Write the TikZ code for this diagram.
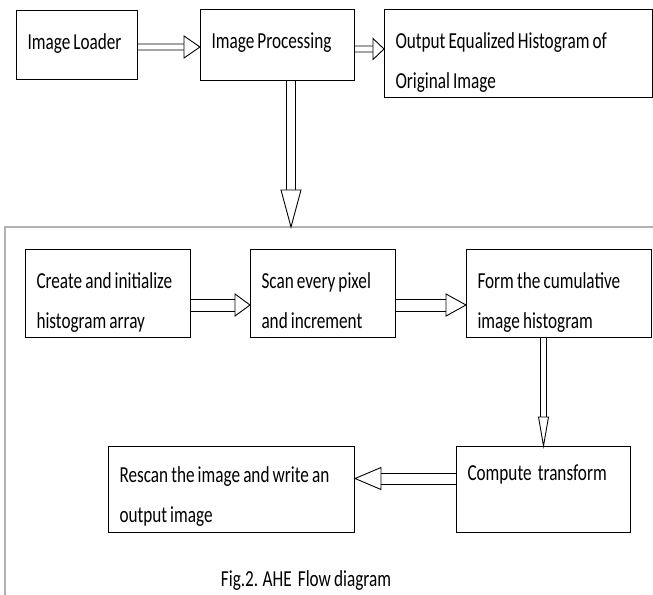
\documentclass[tikz,border=0pt]{standalone}
\usepackage{fontspec}
\setmainfont{Carlito}[FakeStretch=0.75, WordSpace=0.8]
\usetikzlibrary{arrows.meta, positioning, calc}
\hyphenpenalty=10000
% hollow block arrow: from, to, shaft half width, head length, head half width
\newcommand{\blkarrow}[5]{%
  \coordinate (hb) at ($(#2)!#4!(#1)$);
  \draw[blk] ($(#1)!#3!90:(#2)$) -- ($(hb)!#3!-90:(#1)$)
             ($(#1)!#3!-90:(#2)$) -- ($(hb)!#3!90:(#1)$);
  \draw[blk, fill=white] ($(hb)!#5!90:(#2)$) -- (#2) -- ($(hb)!#5!-90:(#2)$) -- cycle;
}

\begin{document}
\begin{tikzpicture}[x=1bp, y=-1bp,
    box/.style={draw, line width=1bp, anchor=north west, align=left,
                inner xsep=11bp, inner ysep=0pt, text height=39bp,
                font=\fontsize{23}{40}\selectfont,
                execute at begin node={\spaceskip=0pt\xspaceskip=0pt}},
    blk/.style={draw, line width=0.9bp, line join=miter},
]
\useasboundingbox (0,0) rectangle (653,595);
\clip (0,0) rectangle (653,595);
% top row
\node[box, minimum width=121bp, text depth=30bp, text width=99bp] (loader) at (16,10) {Image Loader};
\node[box, minimum width=154bp, text depth=32bp, text width=132bp] (proc) at (200,9) {Image Processing};
\node[box, minimum width=268bp, text depth=49bp, text width=246bp] (out) at (384,9)
  {Output Equalized Histogram of\\Original Image};
\coordinate (lp1) at ($(loader.east)+(0,2)$);
\coordinate (lp2) at ($(proc.west)+(0,2)$);
\blkarrow{lp1}{lp2}{3bp}{16bp}{11bp}
\coordinate (po1) at ($(proc.east)+(0,4)$);
\coordinate (po2) at ($(out.west)+(0,-4.5)$);
\blkarrow{po1}{po2}{3bp}{11bp}{10.5bp}
% AHE frame
\coordinate (frametop) at (291,227);
\coordinate (down1) at (proc.south -| frametop);
\draw[gray!60, line width=1.2bp] (700,227) -| (5,620);
\blkarrow{down1}{frametop}{4.5bp}{37bp}{10bp}
% inner steps
\node[box, minimum width=165bp, text depth=49bp, text width=143bp] (create) at (25,249)
  {Create and initialize\\histogram array};
\node[box, minimum width=145bp, text depth=49bp, text width=123bp] (scan) at (250,249)
  {Scan every pixel\\and increment};
\node[box, minimum width=185bp, text depth=49bp, text width=163bp] (form) at (466,249)
  {Form the cumulative\\image histogram};
\node[box, minimum width=174bp, text height=34bp, text depth=52bp, text width=152bp] (compute) at (456,446)
  {Compute\ \ transform};
\node[box, minimum width=246bp, text height=36bp, text depth=50bp, text width=224bp] (rescan) at (108,446)
  {Rescan the image and write an\\output image};
\coordinate (cs1) at ($(create.east)+(0,11.5)$);
\coordinate (cs2) at ($(scan.west)+(0,11.5)$);
\blkarrow{cs1}{cs2}{6bp}{15bp}{11bp}
\coordinate (sf1) at ($(scan.east)+(0,11.5)$);
\coordinate (sf2) at ($(form.west)+(0,11.5)$);
\blkarrow{sf1}{sf2}{6bp}{20bp}{11bp}
\coordinate (fc1) at (form.south -| compute.north);
\blkarrow{fc1}{compute.north}{3bp}{29bp}{5bp}
\coordinate (cr1) at ($(compute.west)+(0,-11)$);
\coordinate (cr2) at ($(rescan.east)+(0,-11)$);
\blkarrow{cr1}{cr2}{5.5bp}{26bp}{11bp}
% caption
\node[font=\fontsize{23}{40}\selectfont] (cap) at (306,581) {Fig.2. AHE\ \ Flow diagram};
\end{tikzpicture}
\end{document}
